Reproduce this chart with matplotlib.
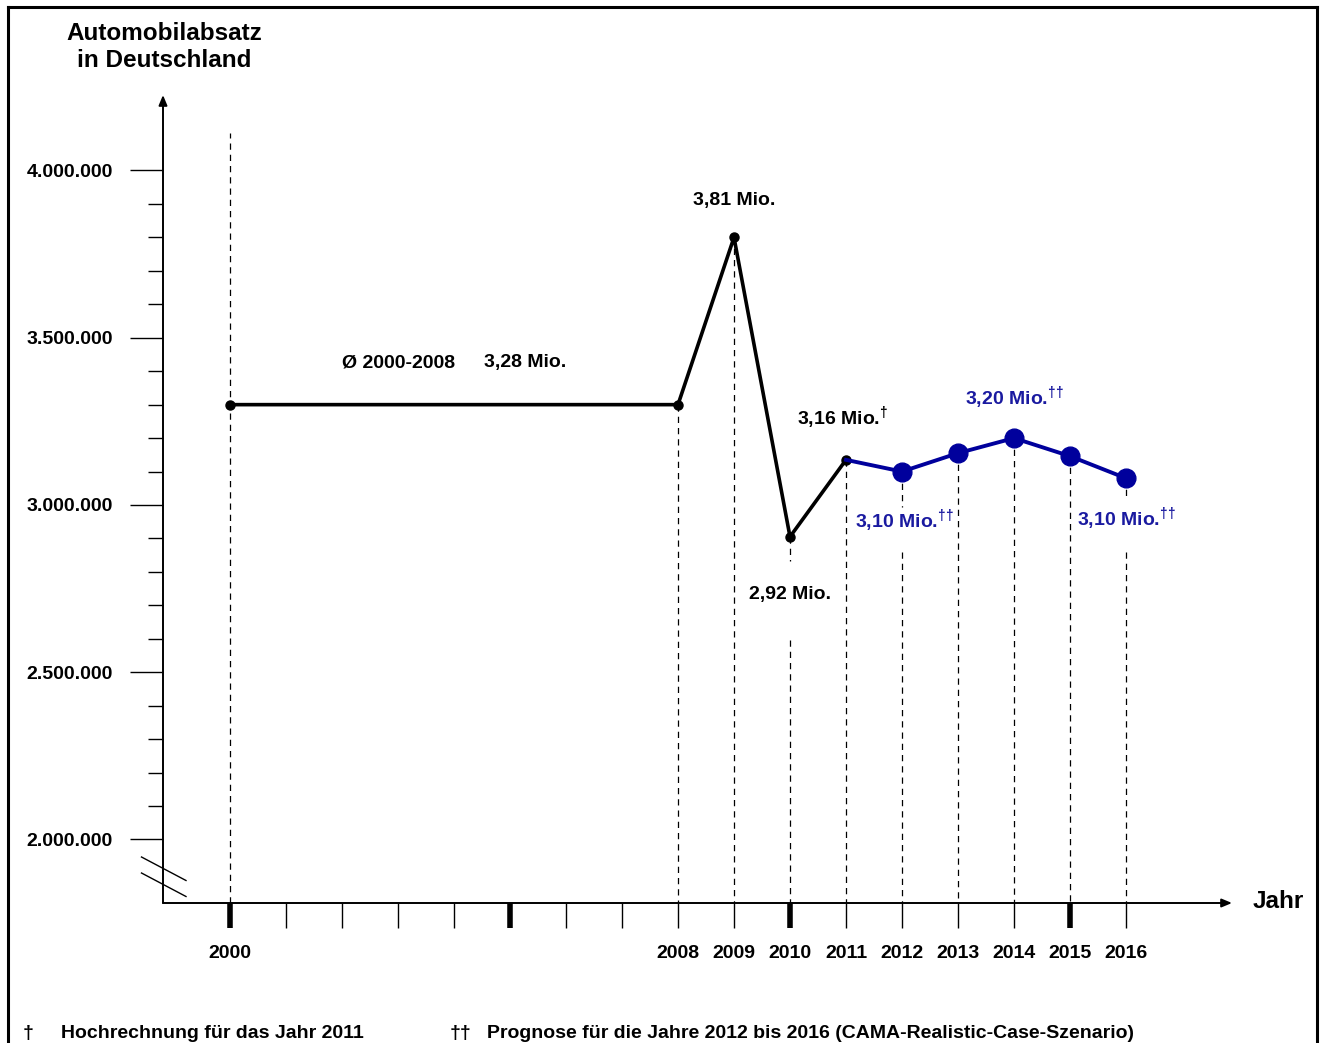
import matplotlib
matplotlib.use("Agg")
import matplotlib.pyplot as plt
from matplotlib.lines import Line2D

plt.rcParams['font.family'] = ['Liberation Sans', 'DejaVu Sans']
plt.rcParams['font.weight'] = 'bold'
plt.rcParams['mathtext.fontset'] = 'custom'
plt.rcParams['mathtext.rm'] = 'Liberation Sans:bold'
plt.rcParams['mathtext.bf'] = 'Liberation Sans:bold'

# ---------------- data ----------------
hist_years = [2000, 2008, 2009, 2010, 2011]
hist_values = [3300000, 3300000, 3800000, 2905000, 3135000]
fc_years = [2011, 2012, 2013, 2014, 2015, 2016]
fc_values = [3135000, 3100000, 3155000, 3200000, 3146000, 3080000]
y_major = [2000000, 2500000, 3000000, 3500000, 4000000]
y_major_labels = ['2.000.000', '2.500.000', '3.000.000', '3.500.000', '4.000.000']
y_minor = [v for v in range(2100000, 4000000, 100000) if v % 500000]
tick_years = list(range(2000, 2017))
labeled_years = [2000, 2008, 2009, 2010, 2011, 2012, 2013, 2014, 2015, 2016]
thick_years = [2000, 2005, 2010, 2015]

BLACK = '#000000'
BLUE = '#00009C'
BLUE_T = '#1A1AA0'
FS = 14

W, H = 1320, 1043
fig = plt.figure(figsize=(W / 100, H / 100), dpi=100)

# layout (pixels)
ax_l, ax_r, ax_b, ax_t = 163, 1232, 903, 95
ax = fig.add_axes([ax_l / W, 1 - ax_b / H, (ax_r - ax_l) / W, (ax_b - ax_t) / H])
px_per_year = 56.0
x0_px = 230
px_per_unit = 334.5 / 1e6
y3_px = 505
ax.set_xlim(2000 - (x0_px - ax_l) / px_per_year, 2000 + (ax_r - x0_px) / px_per_year)
ylo = 3e6 - (ax_b - y3_px) / px_per_unit
yhi = 3e6 + (y3_px - ax_t) / px_per_unit
ax.set_ylim(ylo, yhi)

for s in ax.spines.values():
    s.set_visible(False)

# axes with arrows
for xy in [(0, 1), (1, 0)]:
    ax.annotate('', xy=xy, xytext=(0, 0), xycoords='axes fraction',
                arrowprops=dict(arrowstyle='-|>,head_length=0.6,head_width=0.25', lw=1.4,
                                color=BLACK, shrinkA=0, shrinkB=0))

# y ticks
ax.set_yticks(y_major)
ax.set_yticklabels(y_major_labels, fontsize=FS, fontweight='bold')
ax.set_yticks(y_minor, minor=True)
ax.tick_params(axis='y', which='major', direction='out', length=24, width=1.0, pad=12)
ax.tick_params(axis='y', which='minor', direction='out', length=11, width=1.0)

# x ticks
ax.set_xticks(tick_years)
ax.set_xticklabels([str(y) if y in labeled_years else '' for y in tick_years],
                   fontsize=FS, fontweight='bold')
ax.tick_params(axis='x', which='major', direction='out', length=18, width=1.0, pad=12)
for yr, tick in zip(tick_years, ax.xaxis.get_major_ticks()):
    if yr in thick_years:
        tick.tick1line.set_markeredgewidth(4)

# dashed guide lines
dash = dict(color=BLACK, lw=0.9, linestyle=(0, (5, 4)), zorder=1)
ax.axvline(2000, ymin=0, ymax=(ax_b - 133) / (ax_b - ax_t), **dash)
all_years = hist_years[1:] + fc_years[1:]
all_vals = hist_values[1:] + fc_values[1:]
# gaps around value labels (pixel offsets below the data point)
gaps = {2010: (24, 103), 2012: (35, 80), 2016: (20, 74)}
for yr, v in zip(all_years, all_vals):
    if yr in gaps:
        g1, g2 = gaps[yr]
        ax.plot([yr, yr], [v, v - g1 / px_per_unit], **dash)
        ax.plot([yr, yr], [v - g2 / px_per_unit, ylo], **dash)
    else:
        ax.plot([yr, yr], [v, ylo], **dash)

# lines
ax.plot(hist_years, hist_values, color=BLACK, lw=2.6, marker='o', markersize=6.5,
        zorder=3, clip_on=False)
ax.plot(fc_years, fc_values, color=BLUE, lw=2.8, zorder=3, clip_on=False)
ax.plot(fc_years[1:], fc_values[1:], linestyle='none', marker='o', markersize=13.5,
        color=BLUE, zorder=4, clip_on=False)

# value labels
def lab(year, val, text, dx_px, dy_px, color):
    ax.annotate(text, xy=(year, val), xytext=(dx_px * 0.72, dy_px * 0.72),
                textcoords='offset points', ha='center', va='center',
                fontsize=FS, fontweight='bold', color=color)

lab(2009, 3800000, '3,81 Mio.', 0, 37, BLACK)
lab(2010, 2905000, '2,92 Mio.', 0, -58, BLACK)
lab(2011, 3135000, r'3,16 Mio.$^{\mathrm{†}}$', -3, 42, BLACK)
lab(2014, 3200000, r'3,20 Mio.$^{\mathrm{††}}$', 0, 40, BLUE_T)
lab(2012, 3100000, r'3,10 Mio.$^{\mathrm{††}}$', 2, -50, BLUE_T)
lab(2016, 3080000, r'3,10 Mio.$^{\mathrm{††}}$', 0, -41, BLUE_T)

# average annotation
fig.text(399 / W, 1 - 363 / H, 'Ø 2000-2008', ha='center', va='center',
         fontsize=FS, fontweight='bold')
fig.text(525.5 / W, 1 - 363 / H, '3,28 Mio.', ha='center', va='center',
         fontsize=FS, fontweight='bold')

# axis titles
fig.text(164 / W, 1 - 47 / H, 'Automobilabsatz\nin Deutschland', ha='center', va='center',
         fontsize=17.5, fontweight='bold', linespacing=1.25)
fig.text(1253 / W, 1 - 902 / H, 'Jahr', ha='left', va='center',
         fontsize=17.5, fontweight='bold')

# axis break marks
for yoff in (0, 16):
    fig.add_artist(Line2D([141.5 / W, 186 / W], [1 - (857 + yoff) / H, 1 - (880.5 + yoff) / H],
                          color=BLACK, lw=1.0))

# footnotes
fy = 1 - 1033 / H
fig.text(28 / W, fy, '†', ha='center', va='center', fontsize=FS, fontweight='bold')
fig.text(61 / W, fy, 'Hochrechnung für das Jahr 2011', ha='left', va='center',
         fontsize=FS, fontweight='bold')
fig.text(460 / W, fy, '††', ha='center', va='center', fontsize=FS, fontweight='bold')
fig.text(487 / W, fy, 'Prognose für die Jahre 2012 bis 2016 (CAMA-Realistic-Case-Szenario)',
         ha='left', va='center', fontsize=FS, fontweight='bold')

# frame
fl, fr, ft = 8 / W, 1316.5 / W, 1 - 6.5 / H
fig.add_artist(Line2D([fl, fl], [0, ft], color=BLACK, lw=2.2))
fig.add_artist(Line2D([fr, fr], [0, ft], color=BLACK, lw=2.2))
fig.add_artist(Line2D([fl, fr], [ft, ft], color=BLACK, lw=2.2))

fig.savefig('out.png', dpi=100, facecolor='white')
